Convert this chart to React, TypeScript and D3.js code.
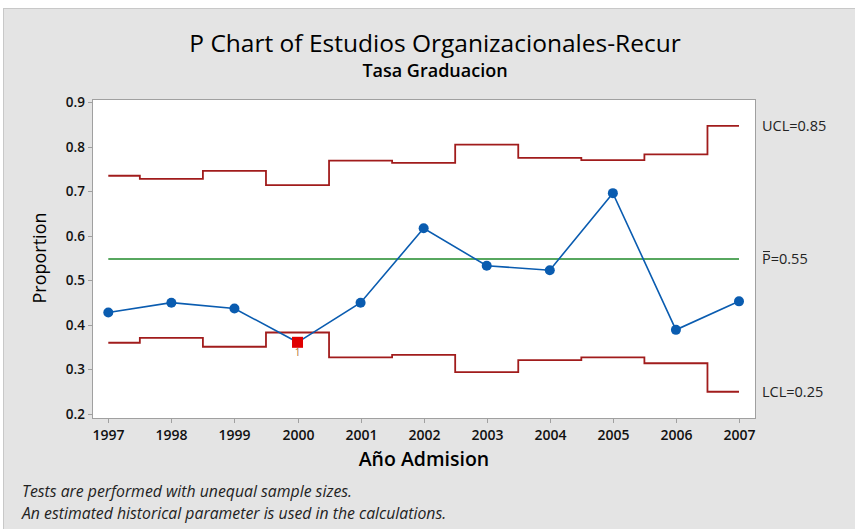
import { useEffect, useRef } from 'react';
import * as d3 from 'd3';

const years = [1997, 1998, 1999, 2000, 2001, 2002, 2003, 2004, 2005, 2006, 2007];
const proportions = [0.428, 0.450, 0.437, 0.361, 0.450, 0.617, 0.533, 0.523, 0.696, 0.389, 0.453];
const ucl = [0.735, 0.728, 0.746, 0.714, 0.769, 0.764, 0.805, 0.775, 0.770, 0.783, 0.847];
const lcl = [0.360, 0.371, 0.351, 0.383, 0.327, 0.333, 0.294, 0.321, 0.327, 0.314, 0.250];
const pBar = 0.548;
const yTicks = [0.2, 0.3, 0.4, 0.5, 0.6, 0.7, 0.8, 0.9];
const failedYears = [2000];

const W = 855;
const H = 529;
const font = "'Open Sans', 'Noto Sans', sans-serif";

export default function App() {
    const svgRef = useRef<SVGSVGElement>(null);

    useEffect(() => {
        if (!svgRef.current) return;
        const svg = d3.select(svgRef.current);
        svg.selectAll("*").remove();

        // Background panel
        svg.append("rect").attr("width", W).attr("height", H).attr("fill", "#ffffff");
        svg.append("rect")
            .attr("x", 3.5).attr("y", 8.5)
            .attr("width", W).attr("height", H)
            .attr("fill", "#e4e4e4")
            .attr("stroke", "#c8c8c8");

        const left = 92, right = 755, top = 99, bottom = 418;
        const x = d3.scaleLinear().domain([1997, 2007]).range([108.3, 739]);
        const y = d3.scaleLinear().domain([0.2, 0.9]).range([414, 102.3]);

        // Plot area
        svg.append("rect")
            .attr("x", left + 0.5).attr("y", top + 0.5)
            .attr("width", right - left).attr("height", bottom - top)
            .attr("fill", "#ffffff")
            .attr("stroke", "#a0a0a0");

        // Titles
        svg.append("text")
            .attr("x", 435).attr("y", 52)
            .attr("text-anchor", "middle")
            .attr("font-family", font).attr("font-size", 24.5)
            .attr("fill", "#000")
            .text("P Chart of Estudios Organizacionales-Recur");
        svg.append("text")
            .attr("x", 435).attr("y", 77)
            .attr("text-anchor", "middle")
            .attr("font-family", font).attr("font-size", 18)
            .attr("font-weight", 600)
            .attr("fill", "#000")
            .text("Tasa Graduacion");

        // Y axis
        const yAxis = svg.append("g");
        yTicks.forEach(t => {
            const yy = Math.round(y(t)) + 0.5;
            yAxis.append("line")
                .attr("x1", left - 4).attr("x2", left)
                .attr("y1", yy).attr("y2", yy)
                .attr("stroke", "#a0a0a0");
            yAxis.append("text")
                .attr("x", left - 7).attr("y", yy)
                .attr("dy", "0.35em")
                .attr("text-anchor", "end")
                .attr("font-family", font).attr("font-size", 13.5)
                .attr("font-weight", 600)
                .attr("fill", "#111")
                .text(d3.format(".1f")(t));
        });
        svg.append("text")
            .attr("transform", "translate(46,258) rotate(-90)")
            .attr("text-anchor", "middle")
            .attr("font-family", font).attr("font-size", 18)
            .attr("fill", "#000")
            .text("Proportion");

        // X axis
        const xAxis = svg.append("g");
        years.forEach(yr => {
            const xx = Math.round(x(yr)) + 0.5;
            xAxis.append("line")
                .attr("x1", xx).attr("x2", xx)
                .attr("y1", bottom + 1).attr("y2", bottom + 5)
                .attr("stroke", "#a0a0a0");
            xAxis.append("text")
                .attr("x", xx).attr("y", 440)
                .attr("text-anchor", "middle")
                .attr("font-family", font).attr("font-size", 14)
                .attr("font-weight", 600)
                .attr("fill", "#111")
                .text(String(yr));
        });
        svg.append("text")
            .attr("x", 424).attr("y", 466)
            .attr("text-anchor", "middle")
            .attr("font-family", font).attr("font-size", 19.5)
            .attr("font-weight", 600)
            .attr("fill", "#000")
            .text("Año Admision");

        // Step limit lines
        const stepPoints = (vals: number[]) => {
            const pts: [number, number][] = [];
            vals.forEach((v, i) => {
                const x0 = i === 0 ? years[i] : years[i] - 0.5;
                const x1 = i === vals.length - 1 ? years[i] : years[i] + 0.5;
                pts.push([x(x0), y(v)], [x(x1), y(v)]);
            });
            return pts;
        };
        const line = d3.line();
        [ucl, lcl].forEach(vals => {
            svg.append("path")
                .attr("d", line(stepPoints(vals)))
                .attr("fill", "none")
                .attr("stroke", "#a11c1c")
                .attr("stroke-width", 1.8);
        });

        // Center line
        svg.append("line")
            .attr("x1", x(1997)).attr("x2", x(2007))
            .attr("y1", y(pBar)).attr("y2", y(pBar))
            .attr("stroke", "#1f8a2a")
            .attr("stroke-width", 1.6);

        // Data line
        svg.append("path")
            .attr("d", d3.line<number>()
                .x((_, i) => x(years[i]))
                .y(d => y(d))(proportions))
            .attr("fill", "none")
            .attr("stroke", "#0a5cb0")
            .attr("stroke-width", 1.6);

        // Test label "1" below failed point
        failedYears.forEach(yr => {
            const i = years.indexOf(yr);
            svg.append("text")
                .attr("x", x(yr)).attr("y", y(proportions[i]) + 14)
                .attr("text-anchor", "middle")
                .attr("font-family", font).attr("font-size", 10)
                .attr("fill", "#b07030")
                .text("1");
        });

        // Points
        proportions.forEach((p, i) => {
            if (failedYears.includes(years[i])) {
                svg.append("rect")
                    .attr("x", x(years[i]) - 5.5).attr("y", y(p) - 5.5)
                    .attr("width", 11).attr("height", 11)
                    .attr("fill", "#e00000");
            } else {
                svg.append("circle")
                    .attr("cx", x(years[i])).attr("cy", y(p))
                    .attr("r", 5)
                    .attr("fill", "#0a5cb0");
            }
        });

        // Right-side limit labels
        const lab = svg.append("g")
            .attr("font-family", font).attr("font-size", 14.5)
            .attr("fill", "#222");
        lab.append("text").attr("x", 762).attr("y", y(ucl[ucl.length - 1]) + 5)
            .text("UCL=0.85");
        const pY = y(pBar) + 5;
        lab.append("text").attr("x", 762).attr("y", pY).text("P=0.55");
        lab.append("line")
            .attr("x1", 763).attr("x2", 770)
            .attr("y1", pY - 12.5).attr("y2", pY - 12.5)
            .attr("stroke", "#222").attr("stroke-width", 1);
        lab.append("text").attr("x", 762).attr("y", y(lcl[lcl.length - 1]) + 5)
            .text("LCL=0.25");

        // Footnotes
        const foot = svg.append("g")
            .attr("font-family", font).attr("font-size", 15.8)
            .attr("font-style", "italic")
            .attr("fill", "#222");
        foot.append("text").attr("x", 22).attr("y", 497)
            .text("Tests are performed with unequal sample sizes.");
        foot.append("text").attr("x", 22).attr("y", 519)
            .text("An estimated historical parameter is used in the calculations.");
    }, []);

    return (
        <svg
            ref={svgRef}
            width={W}
            height={H}
            style={{ position: 'absolute', left: 0, top: 0, display: 'block' }}
        />
    );
}
